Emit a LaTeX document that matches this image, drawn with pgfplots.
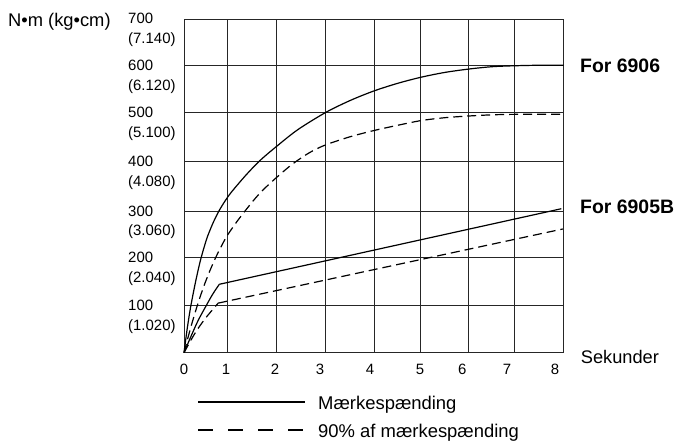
\documentclass[border=0pt]{standalone}
\usepackage{fontspec}
\setmainfont{Liberation Sans}
\usepackage{pgfplots}
\pgfplotsset{compat=1.18}
\newcommand{\yl}[2]{\begin{tabular}[t]{@{}l@{}}#1\\#2\end{tabular}}
\begin{document}
\begin{tikzpicture}
\useasboundingbox (0,0) rectangle (677bp,442bp);
\begin{axis}[
  at={(184bp,89.3bp)}, anchor=south west,
  scale only axis, width=379.7bp, height=333.7bp,
  xmin=0, xmax=8, ymin=0, ymax=700,
  xtick={0,0.906,1.953,2.986,4.004,4.99,5.99,6.97,8},
  xticklabels={,,,,,,,,},
  extra x ticks={0,0.885,1.917,2.865,3.919,4.972,5.864,6.805,7.817},
  extra x tick labels={0,1,2,3,4,5,6,7,8},
  extra x tick style={grid=none, major tick length=0pt},
  ytick={0,98.6,199.3,297.2,400.7,503.3,602,700},
  yticklabels={,\yl{100}{(1.020)},\yl{200}{(2.040)},\yl{300}{(3.060)},\yl{400}{(4.080)},\yl{500}{(5.100)},\yl{600}{(6.120)},\yl{700}{(7.140)}},
  grid=major,
  major grid style={black!85, line width=0.9bp},
  axis line style={black!85, line width=0.9bp},
  major tick length=0pt,
  xticklabel style={anchor=base, yshift=-22.3bp, inner sep=0pt, font=\fontsize{15}{20}\selectfont},
  yticklabel style={anchor=base west, xshift=-56bp, yshift=-5bp, inner sep=0pt, font=\fontsize{15}{20}\selectfont},
  clip=false,
]
% For 6906, rated voltage
\addplot[black, line width=1.2bp, smooth, tension=0.5] coordinates {
(0,0)(0.07,52)(0.14,96)(0.24,147)(0.337,190)(0.42,220)(0.5,245)(0.62,274)(0.74,298)(0.87,319)(1.0,337)(1.3,372)(1.6,403)(1.953,433)(2.4,468)(2.986,504)(3.5,529)(4.0,549)(4.5,565)(5.0,578)(5.5,588)(6.0,595)(6.5,600)(7.0,602)(7.5,603)(8,603)};
% For 6906, 90%
\addplot[black, line width=1.2bp, smooth, tension=0.5, dash pattern=on 9bp off 5bp] coordinates {
(0,0)(0.09,34)(0.18,66)(0.274,97)(0.36,123)(0.45,148)(0.55,173)(0.66,198)(0.78,222)(0.906,245)(1.1,273)(1.292,298)(1.47,320)(1.66,341)(2.0,372)(2.303,397)(2.65,420)(2.986,436)(3.5,453)(4.0,466)(4.5,477)(5.0,487)(5.5,493)(6.0,496.5)(6.5,499)(7.0,500)(8,500)};
% For 6905B, rated voltage
\addplot[black, line width=1.2bp, smooth, tension=0.5] coordinates {
(0,0)(0.15,35)(0.3,68)(0.464,98)(0.6,122)(0.744,143.5)};
\addplot[black, line width=1.2bp] coordinates {(0.744,143.5)(7.95,302)};
% For 6905B, 90%
\addplot[black, line width=1.2bp, smooth, tension=0.5, dash pattern=on 9bp off 5bp] coordinates {
(0,0)(0.15,27)(0.274,47.6)(0.45,72)(0.6,90)(0.72,104)};
\addplot[black, line width=1.2bp, dash pattern=on 9bp off 5bp] coordinates {(0.72,104)(7.98,259.5)};
\end{axis}
\node[anchor=base west, inner sep=0pt, font=\fontsize{18.4}{22}\selectfont] at (8bp,415bp) {N•m (kg•cm)};
\node[anchor=base west, inner sep=0pt, font=\fontsize{19.5}{23}\selectfont\bfseries] at (580bp,369.3bp) {For 6906};
\node[anchor=base west, inner sep=0pt, font=\fontsize{19.5}{23}\selectfont\bfseries] at (580bp,228.7bp) {For 6905B};
\node[anchor=base west, inner sep=0pt, font=\fontsize{18.3}{22}\selectfont] at (580.7bp,78.7bp) {Sekunder};
\draw[black, line width=2bp] (198bp,39.5bp) -- (305bp,39.5bp);
\node[anchor=base west, inner sep=0pt, font=\fontsize{18.5}{22}\selectfont] at (318bp,32.8bp) {Mærkespænding};
\draw[black, line width=2bp, dash pattern=on 15bp off 15bp] (198bp,12.2bp) -- (305bp,12.2bp);
\node[anchor=base west, inner sep=0pt, font=\fontsize{18.5}{22}\selectfont] at (318bp,4.6bp) {90\% af mærkespænding};
\end{tikzpicture}
\end{document}
